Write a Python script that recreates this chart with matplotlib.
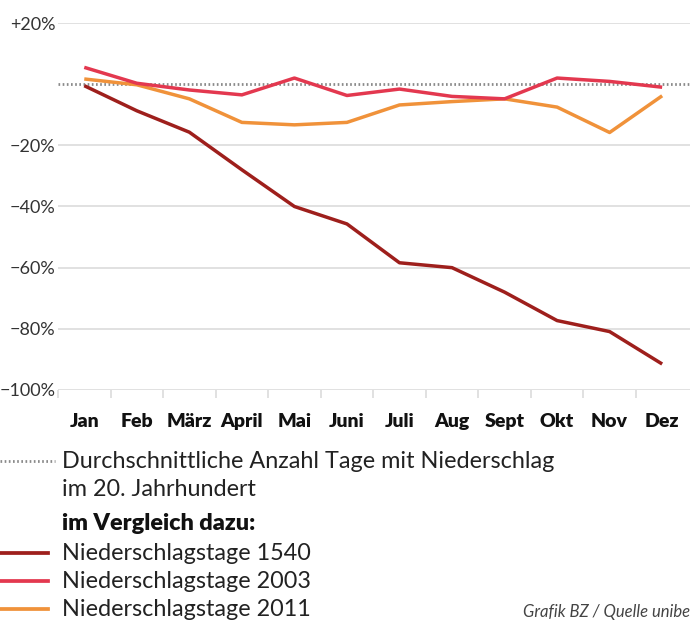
import numpy as np
import matplotlib
matplotlib.use("Agg")
import matplotlib.pyplot as plt

months = ['Jan', 'Feb', 'März', 'April', 'Mai', 'Juni', 'Juli', 'Aug', 'Sept', 'Okt', 'Nov', 'Dez']
tage_1540 = [-0.5, -8.7, -15.7, -28.0, -40.0, -45.7, -58.4, -60.0, -68.0, -77.3, -80.9, -91.5]
tage_2003 = [5.5, 0.3, -1.9, -3.5, 2.0, -3.7, -1.6, -4.0, -4.8, 2.0, 0.9, -1.0]
tage_2011 = [1.7, -0.2, -4.8, -12.5, -13.3, -12.5, -6.8, -5.7, -4.8, -7.5, -15.8, -3.8]
yticks = [20, -20, -40, -60, -80, -100]
ylabels = ['+20%', '−20%', '−40%', '−60%', '−80%', '−100%']

c1540 = '#9e1f1c'
c2003 = '#e3384f'
c2011 = '#f0923a'
grid_c = '#dedede'
dot_c = '#8a8a8a'
font = 'Lato'

fig = plt.figure(figsize=(6.9, 6.41), dpi=100)
ax = fig.add_axes([58/690, 1-390/641, 1-58/690, (390-23)/641])
x = np.arange(len(months))

for yv in yticks:
    ax.axhline(yv, color=grid_c, lw=1.3, zorder=0)
ax.axhline(0, color=dot_c, lw=2, ls=(0, (0.6, 0.9)), zorder=1)

ax.plot(x, tage_2011, color=c2011, lw=2.5, solid_capstyle='butt', zorder=3)
ax.plot(x, tage_2003, color=c2003, lw=2.5, solid_capstyle='butt', zorder=4)
ax.plot(x, tage_1540, color=c1540, lw=2.5, solid_capstyle='butt', zorder=5)

ax.set_xlim(-0.5, 11.53)
ax.set_ylim(-100, 20)
for s in ax.spines.values():
    s.set_visible(False)

ax.set_yticks(yticks)
ax.set_yticklabels(ylabels, fontsize=13, color='#333333', fontfamily=font)
ax.tick_params(axis='y', length=0, pad=2)

ax.set_xticks(np.arange(-0.5, 11, 1.0))
ax.set_xticklabels([])
ax.tick_params(axis='x', length=6, width=1.3, color=grid_c, direction='out')
for i, m in enumerate(months):
    ax.text(i, -110.2, m, ha='center', va='center', fontsize=14, fontweight='heavy',
            fontfamily=font, color='#111111', clip_on=False)

# legend drawn by hand under the chart
fig.lines.append(plt.Line2D([0, 55/690], [1-461/641]*2, transform=fig.transFigure,
                            color=dot_c, lw=2, ls=(0, (0.6, 0.9))))
fig.text(62/690, 1-461/641, 'Durchschnittliche Anzahl Tage mit Niederschlag', fontsize=16.8,
         fontfamily=font, color='#222222', va='center')
fig.text(62/690, 1-489/641, 'im 20. Jahrhundert', fontsize=16.8,
         fontfamily=font, color='#222222', va='center')
fig.text(62/690, 1-524/641, 'im Vergleich dazu:', fontsize=16.8, fontweight='heavy',
         fontfamily=font, color='#111111', va='center')
legend_items = [('Niederschlagstage 1540', c1540, 553),
                ('Niederschlagstage 2003', c2003, 581),
                ('Niederschlagstage 2011', c2011, 609)]
for label, col, yy in legend_items:
    fig.lines.append(plt.Line2D([0, 48/690], [1-yy/641]*2, transform=fig.transFigure,
                                color=col, lw=2.7))
    fig.text(62/690, 1-yy/641, label, fontsize=16.8, fontfamily=font,
             color='#222222', va='center')

fig.text(1.0, 1-612/641, 'Grafik BZ / Quelle unibe', fontsize=12, style='italic',
         fontfamily=font, color='#444444', ha='right', va='center')

fig.savefig('out.png', dpi=100, facecolor='white')
